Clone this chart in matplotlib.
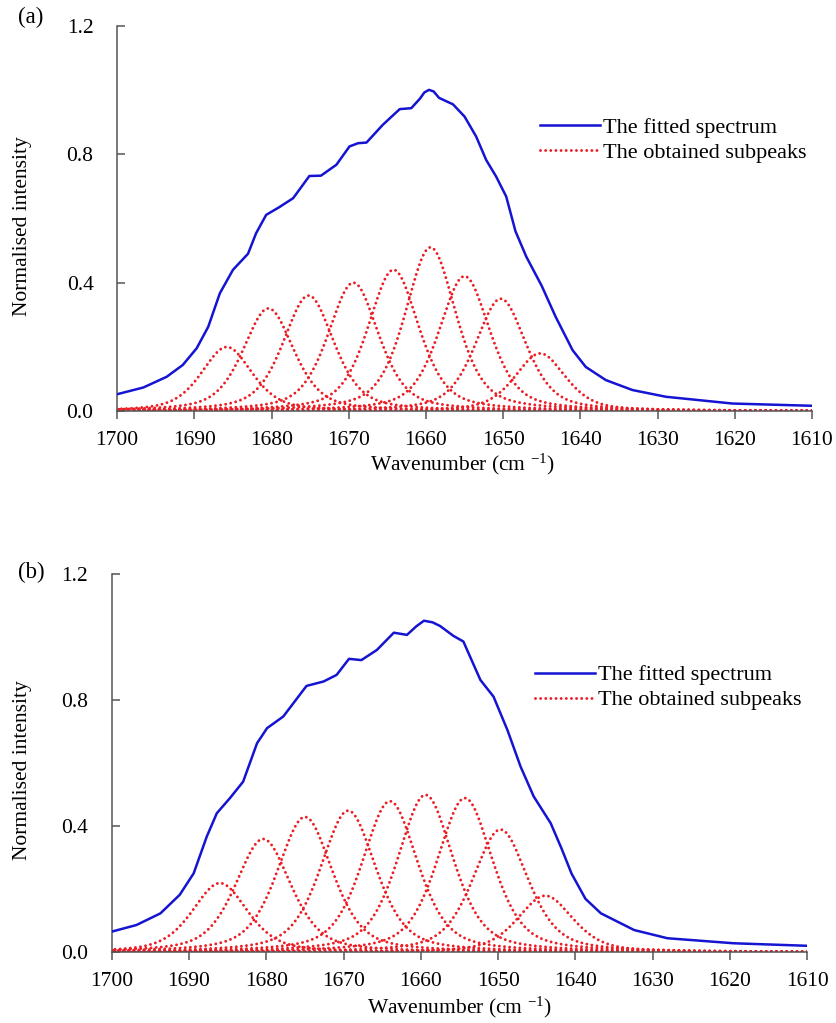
"""Amide I band fitting — fitted spectrum and sub-peaks, panels (a) and (b)."""
import matplotlib
matplotlib.use("Agg")
import matplotlib.pyplot as plt
import numpy as np
from matplotlib.ticker import FormatStrFormatter

plt.rcParams["font.family"] = ["Liberation Serif", "DejaVu Serif"]
plt.rcParams["mathtext.fontset"] = "custom"
plt.rcParams["mathtext.rm"] = "Liberation Serif"
plt.rcParams["mathtext.it"] = "Liberation Serif:italic"

BLUE = "#1414d2"
RED = "#ec1c24"
AXCOL = "#555555"

# ---- panel (a): fitted spectrum (wavenumber, intensity)
wn_a = [1700, 1696.6, 1693.6, 1691.5, 1689.7, 1688.2, 1686.7, 1685.0, 1683.05,
        1682.0, 1680.7, 1679.0, 1677.2, 1675.1, 1673.6, 1671.6, 1669.9, 1668.8,
        1667.7, 1665.6, 1663.4, 1661.9, 1660.8, 1660.2, 1659.6, 1659.0, 1658.3,
        1656.5, 1655.0, 1653.5, 1652.2, 1650.9, 1649.6, 1648.4, 1647.0, 1645.0,
        1643.2, 1641.0, 1639.3, 1636.7, 1633.25, 1628.9, 1620.3, 1610]
fit_a = [0.053, 0.074, 0.107, 0.144, 0.196, 0.263, 0.367, 0.44, 0.49,
         0.554, 0.611, 0.635, 0.663, 0.732, 0.733, 0.767, 0.824, 0.834,
         0.836, 0.891, 0.94, 0.943, 0.972, 0.992, 1.0, 0.995, 0.975,
         0.955, 0.917, 0.855, 0.782, 0.730, 0.668, 0.56, 0.481, 0.39,
         0.294, 0.19, 0.138, 0.097, 0.066, 0.045, 0.024, 0.017]
# sub-peaks (a): centre, height; common FWHM
centres_a = [1685.8, 1680.4, 1675.2, 1669.4, 1664.2, 1659.4, 1655.0, 1650.3, 1645.2]
heights_a = [0.20, 0.32, 0.36, 0.40, 0.44, 0.51, 0.42, 0.35, 0.18]
fwhm_a = 7.8

# ---- panel (b)
wn_b = [1700, 1696.8, 1693.7, 1691.2, 1689.4, 1687.7, 1686.4, 1684.7, 1683.0,
        1681.2, 1679.9, 1677.8, 1676.5, 1674.8, 1672.6, 1670.9, 1669.3, 1667.7,
        1665.7, 1663.5, 1661.8, 1660.6, 1659.6, 1658.5, 1657.5, 1655.8, 1654.5,
        1652.3, 1650.6, 1648.8, 1647.1, 1645.4, 1643.2, 1641.8, 1640.5, 1638.7,
        1636.7, 1632.4, 1628.1, 1619.5, 1610]
fit_b = [0.066, 0.087, 0.124, 0.183, 0.251, 0.368, 0.442, 0.49, 0.542,
         0.664, 0.712, 0.749, 0.791, 0.846, 0.86, 0.881, 0.932, 0.928,
         0.96, 1.015, 1.008, 1.035, 1.053, 1.048, 1.036, 1.005, 0.987,
         0.865, 0.812, 0.706, 0.59, 0.495, 0.41, 0.33, 0.25, 0.17,
         0.124, 0.071, 0.045, 0.029, 0.021]
centres_b = [1686.0, 1680.4, 1675.0, 1669.4, 1664.0, 1659.4, 1654.3, 1649.7, 1643.9]
heights_b = [0.22, 0.36, 0.43, 0.45, 0.48, 0.50, 0.49, 0.39, 0.18]
fwhm_b = 8.5

panel_tags = ["(a)", "(b)"]
y_ticks = [0.0, 0.4, 0.8, 1.2]
x_ticks = list(range(1700, 1609, -10))


def pseudo_voigt(x, centre, height, fwhm, eta=0.5):
    u = (x - centre) / fwhm
    gauss = np.exp(-4 * np.log(2) * u ** 2)
    lorentz = 1.0 / (1.0 + 4 * u ** 2)
    return height * (eta * lorentz + (1 - eta) * gauss)


def draw_panel(ax, wn, fit, centres, heights, fwhm):
    grid = np.linspace(1610, 1700, 1201)
    ax.plot(wn, fit, color=BLUE, lw=1.8, label="The fitted spectrum", zorder=3,
            solid_joinstyle="round")
    for i, (c, h) in enumerate(zip(centres, heights)):
        ax.plot(grid, pseudo_voigt(grid, c, h, fwhm), color=RED, lw=2.1,
                ls=(0, (0.01, 1.75)), dash_capstyle="round",
                label="The obtained subpeaks" if i == 0 else None)
    ax.set_xlim(1700, 1610)
    ax.set_ylim(0, 1.2)
    ax.set_xticks(x_ticks)
    ax.set_yticks(y_ticks)
    ax.yaxis.set_major_formatter(FormatStrFormatter("%.1f"))
    for s in ("top", "right"):
        ax.spines[s].set_visible(False)
    for s in ("left", "bottom"):
        ax.spines[s].set_color(AXCOL)
        ax.spines[s].set_linewidth(1.1)
    ax.tick_params(axis="y", direction="in", length=5.5, width=1.1, color=AXCOL,
                   pad=17, labelsize=15.5)
    ax.tick_params(axis="x", direction="out", length=6, width=1.1, color=AXCOL,
                   pad=8, labelsize=15.5)
    ax.set_xlabel("Wavenumber (cm $^{-1}$)", fontsize=15.5)
    ax.set_ylabel("Normalised intensity", fontsize=15.5)
    ax.legend(loc="upper left", bbox_to_anchor=(0.592, 0.79), frameon=False,
              fontsize=16, handlelength=2.7, handletextpad=0.15,
              borderpad=0, labelspacing=0.2)


def main():
    fig = plt.figure(figsize=(8.37, 10.23), dpi=100)
    ax_a = fig.add_axes([0.140, 0.598, 0.830, 0.377])
    ax_b = fig.add_axes([0.1335, 0.069, 0.831, 0.3695])

    draw_panel(ax_a, wn_a, fit_a, centres_a, heights_a, fwhm_a)
    draw_panel(ax_b, wn_b, fit_b, centres_b, heights_b, fwhm_b)

    ax_a.xaxis.set_label_coords(0.497, -0.105)
    ax_b.xaxis.set_label_coords(0.5, -0.112)
    ax_a.yaxis.set_label_coords(-0.123, 0.48)
    ax_b.yaxis.set_label_coords(-0.115, 0.483)

    fig.text(18 / 837, 1 - 17 / 1023, panel_tags[0], fontsize=16.5, va="center")
    fig.text(18 / 837, 1 - 572 / 1023, panel_tags[1], fontsize=16.5, va="center")

    fig.savefig("out.png", dpi=100)
    plt.close(fig)


if __name__ == "__main__":
    main()
